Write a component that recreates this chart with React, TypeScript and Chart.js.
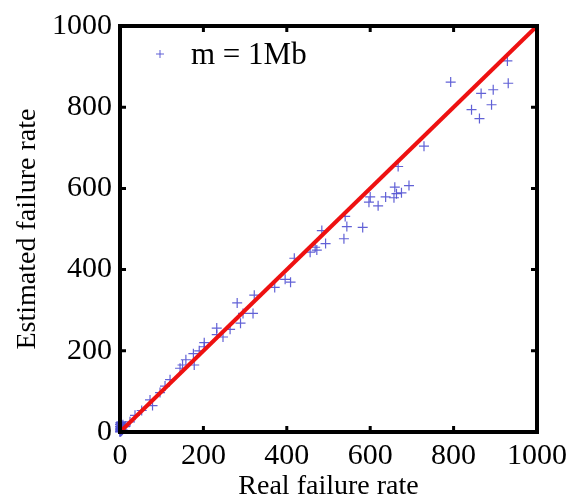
import React, { useEffect, useRef } from "react";
import { Chart, registerables } from "chart.js";

Chart.register(...registerables);

const seriesLabel = "m = 1Mb";
const xTitle = "Real failure rate";
const yTitle = "Estimated failure rate";
const tickValues = [0, 200, 400, 600, 800, 1000];

const realRate = [
  0, 1, 2, 3, 0, 4, 2, 6, 1, 5, 3, 7, 0, 1, 2, 0, 3, 1, 4, 2, 0, 1,
  12, 24, 36, 52, 72, 78, 96, 108, 120, 144, 150, 158, 176, 178, 190, 202, 202,
  232, 232, 247, 264, 289, 295, 319, 281, 322, 371, 396, 409, 418, 456, 468, 472,
  493, 484, 537, 544, 582, 540, 597, 600, 619, 637, 657, 663, 675, 659, 693, 667,
  729, 793, 843, 862, 866, 891, 895, 931, 929,
];
const estimatedRate = [
  0, 4, 9, 2, 14, 16, 21, 5, 11, 10, 25, 18, 7, 1, 6, 19, 12, 23, 3, 15, 2, 8,
  13, 25, 41, 53, 79, 65, 97, 113, 129, 157, 165, 178, 193, 165, 200, 210, 220,
  256, 240, 234, 253, 268, 292, 292, 318, 337, 356, 376, 369, 428, 443, 455, 448,
  464, 496, 476, 506, 504, 531, 566, 579, 557, 579, 577, 587, 589, 603, 607, 654,
  704, 862, 794, 772, 834, 806, 843, 859, 914,
];
const idealLine = [0, 1000];

const markerColor = "rgba(80,80,210,0.9)";

const framePlugin = {
  id: "frame",
  afterDatasetsDraw(chart: any) {
    const { ctx, chartArea, scales } = chart;
    const { left, right, top, bottom } = chartArea;
    ctx.save();
    ctx.strokeStyle = "#000";
    ctx.lineWidth = 3;
    const len = 6;
    tickValues.forEach((v) => {
      const px = scales.x.getPixelForValue(v);
      const py = scales.y.getPixelForValue(v);
      ctx.beginPath();
      ctx.moveTo(px, bottom);
      ctx.lineTo(px, bottom - len);
      ctx.moveTo(px, top);
      ctx.lineTo(px, top + len);
      ctx.moveTo(left, py);
      ctx.lineTo(left + len, py);
      ctx.moveTo(right, py);
      ctx.lineTo(right - len, py);
      ctx.stroke();
    });
    ctx.lineWidth = 4;
    ctx.strokeRect(left, top, right - left, bottom - top);
    // legend
    const mx = left + 40;
    const my = top + 28;
    ctx.strokeStyle = markerColor;
    ctx.lineWidth = 1;
    ctx.beginPath();
    ctx.moveTo(mx - 4, my);
    ctx.lineTo(mx + 4, my);
    ctx.moveTo(mx, my - 4);
    ctx.lineTo(mx, my + 4);
    ctx.stroke();
    ctx.fillStyle = "#000";
    ctx.font = "31px 'Liberation Serif'";
    ctx.textBaseline = "middle";
    ctx.textAlign = "left";
    ctx.fillText(seriesLabel, left + 71, my + 2);
    ctx.restore();
  },
};

export default function App() {
  const ref = useRef<HTMLCanvasElement>(null);
  useEffect(() => {
    document.body.style.margin = "0";
    const points = realRate.map((x, i) => ({ x, y: estimatedRate[i] }));
    const linePts = idealLine.map((v) => ({ x: v, y: v }));
    const chart = new Chart(ref.current!, {
      type: "scatter",
      data: {
        datasets: [
          {
            type: "line",
            label: "ideal",
            data: linePts,
            borderColor: "#ee1111",
            borderWidth: 4,
            pointRadius: 0,
            showLine: true,
            clip: false,
          } as any,
          {
            label: seriesLabel,
            data: points,
            pointStyle: "cross",
            pointRadius: 5,
            pointBorderWidth: 1.2,
            borderColor: markerColor,
            backgroundColor: markerColor,
            clip: false,
          } as any,
        ],
      },
      options: {
        animation: false,
        responsive: true,
        maintainAspectRatio: false,
        layout: { padding: { top: 17, right: 44, left: 0, bottom: 0 } },
        plugins: {
          legend: { display: false },
          tooltip: { enabled: false },
        },
        scales: {
          x: {
            type: "linear",
            min: 0,
            max: 1000,
            grid: { display: false, drawTicks: false },
            border: { display: false },
            afterFit: (s: any) => {
              s.height = 69;
            },
            ticks: {
              stepSize: 200,
              padding: 6,
              color: "#000",
              font: { family: "'Liberation Serif'", size: 30 },
              callback: (v: any) => String(v),
            },
            title: {
              display: true,
              text: xTitle,
              color: "#000",
              font: { family: "'Liberation Serif'", size: 28, lineHeight: 1 },
              padding: { top: 0, bottom: 0 },
            },
          },
          y: {
            type: "linear",
            min: 0,
            max: 1000,
            grid: { display: false, drawTicks: false },
            border: { display: false },
            afterFit: (s: any) => {
              s.width = 120;
            },
            ticks: {
              stepSize: 200,
              padding: 8,
              color: "#000",
              font: { family: "'Liberation Serif'", size: 30 },
              callback: (v: any) => String(v),
            },
            title: {
              display: true,
              text: yTitle,
              color: "#000",
              font: { family: "'Liberation Serif'", size: 28, lineHeight: 1.2 },
              padding: { top: 11, bottom: 0 },
            },
          },
        },
      },
      plugins: [framePlugin],
    });
    return () => chart.destroy();
  }, []);
  return (
    <div style={{ position: "absolute", left: 0, top: 0, width: 581, height: 501 }}>
      <canvas ref={ref} />
    </div>
  );
}
